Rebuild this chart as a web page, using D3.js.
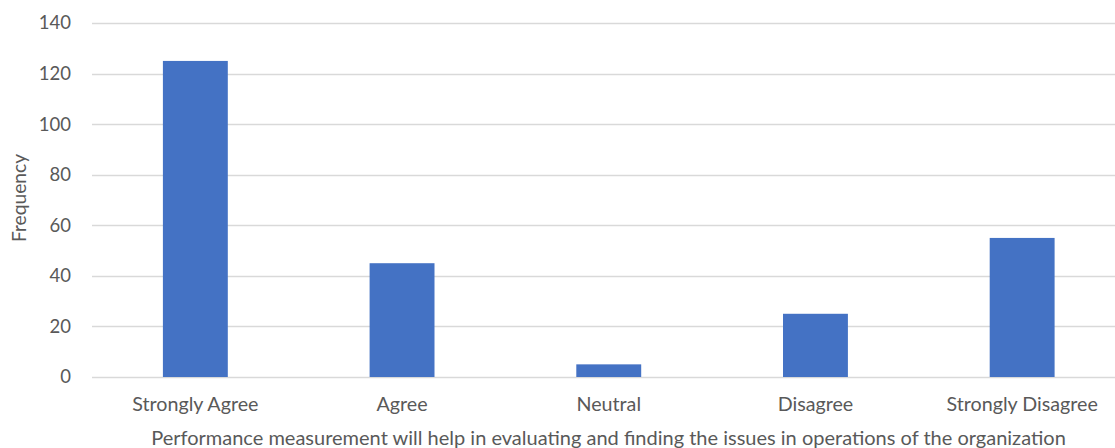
<!DOCTYPE html>
<html>
<head>
<meta charset="utf-8">
<script src="https://cdn.jsdelivr.net/npm/d3@7"></script>
<style>
  html, body { margin: 0; padding: 0; background: #fff; }
  svg { display: block; }
  text { font-family: Lato, "Open Sans", sans-serif; fill: #595959; }
</style>
</head>
<body>
<svg id="chart" width="1115" height="448"></svg>
<script>
// Survey responses
const categories = ["Strongly Agree", "Agree", "Neutral", "Disagree", "Strongly Disagree"];
const frequencies = [125, 45, 5, 25, 55];
const yTicks = [0, 20, 40, 60, 80, 100, 120, 140];
const xTitle = "Performance measurement will help in evaluating and finding the issues in operations of the organization";
const yTitle = "Frequency";

const svg = d3.select("#chart");
const plot = { left: 92, right: 1125.5, top: 23, bottom: 377 };

const x = d3.scaleBand().domain(categories).range([plot.left, plot.right]).padding(0);
const y = d3.scaleLinear().domain([0, 140]).range([plot.bottom, plot.top]);
const barW = x.bandwidth() * 0.314;

// Horizontal gridlines
svg.append("g")
  .selectAll("line")
  .data(yTicks)
  .join("line")
  .attr("x1", plot.left)
  .attr("x2", plot.right)
  .attr("y1", d => Math.round(y(d)) + 0.5)
  .attr("y2", d => Math.round(y(d)) + 0.5)
  .attr("stroke", "#d9d9d9")
  .attr("stroke-width", 1.3);

// Y tick labels
svg.append("g")
  .selectAll("text")
  .data(yTicks)
  .join("text")
  .attr("x", 71)
  .attr("y", d => y(d))
  .attr("dy", "0.35em")
  .attr("text-anchor", "end")
  .attr("font-size", 18.5)
  .text(d => d);

// Bars
svg.append("g")
  .selectAll("rect")
  .data(categories)
  .join("rect")
  .attr("x", d => x(d) + (x.bandwidth() - barW) / 2)
  .attr("y", (d, i) => y(frequencies[i]))
  .attr("width", barW)
  .attr("height", (d, i) => y(0) - y(frequencies[i]))
  .attr("fill", "#4472c4");

// Category labels
svg.append("g")
  .selectAll("text")
  .data(categories)
  .join("text")
  .attr("x", d => x(d) + x.bandwidth() / 2)
  .attr("y", 411)
  .attr("text-anchor", "middle")
  .attr("font-size", 19.7)
  .text(d => d);

// Axis titles
svg.append("text")
  .attr("x", 608.5)
  .attr("y", 445)
  .attr("text-anchor", "middle")
  .attr("font-size", 20)
  .text(xTitle);

svg.append("text")
  .attr("transform", "translate(26,198) rotate(-90)")
  .attr("text-anchor", "middle")
  .attr("font-size", 19.2)
  .text(yTitle);
</script>
</body>
</html>
